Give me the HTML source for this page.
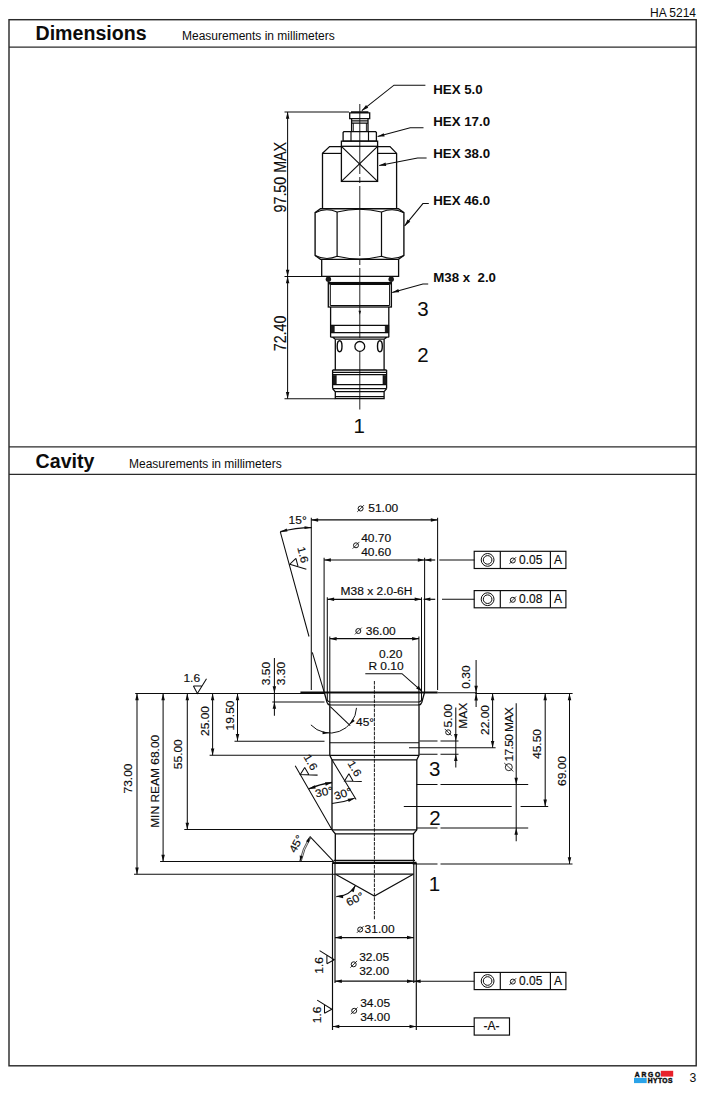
<!DOCTYPE html>
<html><head><meta charset="utf-8"><title>HA 5214</title>
<style>
html,body{margin:0;padding:0;background:#fff;}
svg{display:block;font-family:"Liberation Sans",Arial,sans-serif;}
</style></head><body>
<svg width="709" height="1098" viewBox="0 0 709 1098">
<rect x="0" y="0" width="709" height="1098" fill="#fff"/>
<rect x="9.0" y="19.7" width="687.2" height="1046.1" stroke="#2a2a2a" stroke-width="1.43" fill="none"/>
<line x1="9.0" y1="47.1" x2="696.2" y2="47.1" stroke="#2a2a2a" stroke-width="1.17" />
<line x1="9.0" y1="446.8" x2="696.2" y2="446.8" stroke="#2a2a2a" stroke-width="1.17" />
<line x1="9.0" y1="474.3" x2="696.2" y2="474.3" stroke="#2a2a2a" stroke-width="1.17" />
<text x="650" y="17" font-size="12" text-anchor="start" font-weight="normal" fill="#0c0c0c" >HA 5214</text>
<text x="35.5" y="40" font-size="19.6" text-anchor="start" font-weight="bold" fill="#0c0c0c" >Dimensions</text>
<text x="182" y="40" font-size="12" text-anchor="start" font-weight="normal" fill="#0c0c0c" >Measurements in millimeters</text>
<text x="35.6" y="467.8" font-size="19.6" text-anchor="start" font-weight="bold" fill="#0c0c0c" >Cavity</text>
<text x="129" y="468" font-size="12" text-anchor="start" font-weight="normal" fill="#0c0c0c" >Measurements in millimeters</text>
<rect x="660.8" y="1070.8" width="12.4" height="5.8" stroke="none" stroke-width="0.0" fill="#e8202a"/>
<rect x="634" y="1077.9" width="12.7" height="5.2" stroke="none" stroke-width="0.0" fill="#2ba3e8"/>
<text x="634.8" y="1076.6" font-size="6.7" text-anchor="start" font-weight="bold" fill="#0c0c0c" textLength="25.4" lengthAdjust="spacing" stroke="#111" stroke-width="0.45">ARGO</text>
<text x="647.8" y="1083.0" font-size="6.7" text-anchor="start" font-weight="bold" fill="#0c0c0c" textLength="24.6" lengthAdjust="spacing" stroke="#111" stroke-width="0.45">HYTOS</text>
<text x="689.4" y="1081.9" font-size="12.2" text-anchor="start" font-weight="normal" fill="#0c0c0c" >3</text>
<line x1="359.8" y1="104" x2="359.8" y2="409.5" stroke="#0c0c0c" stroke-width="0.91" stroke-dasharray="70 3 6 3"/>
<line x1="284.5" y1="112" x2="349" y2="112" stroke="#0c0c0c" stroke-width="1.04" />
<line x1="284.5" y1="276.5" x2="323" y2="276.5" stroke="#0c0c0c" stroke-width="1.04" />
<line x1="284.5" y1="398.7" x2="335.3" y2="398.7" stroke="#0c0c0c" stroke-width="1.04" />
<line x1="287.6" y1="112" x2="287.6" y2="276.5" stroke="#0c0c0c" stroke-width="1.04" />
<polygon points="287.60,112.00 289.35,118.80 285.85,118.80" fill="#0c0c0c"/>
<polygon points="287.60,276.50 285.85,269.70 289.35,269.70" fill="#0c0c0c"/>
<line x1="287.6" y1="276.5" x2="287.6" y2="398.7" stroke="#0c0c0c" stroke-width="1.04" />
<polygon points="287.60,276.50 289.35,283.30 285.85,283.30" fill="#0c0c0c"/>
<polygon points="287.60,398.70 285.85,391.90 289.35,391.90" fill="#0c0c0c"/>
<text transform="translate(285.6 177.2) rotate(-90) scale(0.915 1)" font-size="15.6" text-anchor="middle" fill="#0c0c0c" stroke="#0c0c0c" stroke-width="0.15">97.50 MAX</text>
<text transform="translate(285.6 333.4) rotate(-90) scale(0.915 1)" font-size="15.6" text-anchor="middle" fill="#0c0c0c" stroke="#0c0c0c" stroke-width="0.15">72.40</text>
<path d="M351,112 L368.4,112 M349.7,112.8 L369.7,112.8 L369.7,118.6 L349.7,118.6 Z" stroke="#0c0c0c" stroke-width="1.3" fill="none" />
<path d="M351.6,118.6 L351.6,131.6 M368,118.6 L368,131.6 M351.6,120.9 L368,120.9 M351.6,123.1 L368,123.1" stroke="#0c0c0c" stroke-width="1.3" fill="none" />
<path d="M353.3,123.1 L353.3,131.6 M366.4,123.1 L366.4,131.6" stroke="#0c0c0c" stroke-width="0.91" fill="none" />
<path d="M343.9,131.6 L375.6,131.6 L376.4,132.6 L376.4,141.2 L343.1,141.2 L343.1,132.6 Z" stroke="#0c0c0c" stroke-width="1.3" fill="none" />
<line x1="351" y1="131.6" x2="351" y2="141.2" stroke="#0c0c0c" stroke-width="1.17" />
<line x1="368.5" y1="131.6" x2="368.5" y2="141.2" stroke="#0c0c0c" stroke-width="1.17" />
<path d="M341.4,146.3 L341.4,141.2 L377.6,141.2 L377.6,146.3" stroke="#0c0c0c" stroke-width="1.3" fill="none" />
<rect x="341.4" y="146.3" width="36.2" height="35.1" stroke="#0c0c0c" stroke-width="1.3" fill="none"/>
<line x1="341.4" y1="146.3" x2="377.6" y2="181.4" stroke="#0c0c0c" stroke-width="1.17" />
<line x1="377.6" y1="146.3" x2="341.4" y2="181.4" stroke="#0c0c0c" stroke-width="1.17" />
<path d="M322.5,208.8 L322.5,153.4 L329.6,146.6 L341.4,146.6 M377.6,146.6 L390,146.6 L396.6,153.4 L396.6,208.8" stroke="#0c0c0c" stroke-width="1.3" fill="none" />
<line x1="322.5" y1="153.4" x2="341.4" y2="153.4" stroke="#0c0c0c" stroke-width="1.17" />
<line x1="377.6" y1="153.4" x2="396.6" y2="153.4" stroke="#0c0c0c" stroke-width="1.17" />
<path d="M320.5,208.8 L398.4,208.8 L403.9,212.7 L403.9,255.5 L398.4,259.4 L320.5,259.4 L315.1,255.5 L315.1,212.7 Z" stroke="#0c0c0c" stroke-width="1.37" fill="none" />
<line x1="337.1" y1="212" x2="337.1" y2="256.3" stroke="#0c0c0c" stroke-width="1.23" />
<line x1="381.5" y1="212" x2="381.5" y2="256.3" stroke="#0c0c0c" stroke-width="1.23" />
<path d="M315.1,212.7 Q326,207.2 337.1,212 Q359.5,206.4 381.5,212 Q393,207.2 403.9,212.7" stroke="#0c0c0c" stroke-width="1.1" fill="none" />
<path d="M315.1,255.5 Q326,261 337.1,256.3 Q359.5,261.8 381.5,256.3 Q393,261 403.9,255.5" stroke="#0c0c0c" stroke-width="1.1" fill="none" />
<path d="M321.7,259.4 L321.7,276.4 L398.6,276.4 L398.6,259.4" stroke="#0c0c0c" stroke-width="1.3" fill="none" />
<circle cx="328.4" cy="279.3" r="2.7" fill="#1a1a1a"/><circle cx="391.2" cy="279.3" r="2.7" fill="#1a1a1a"/>
<rect x="328.3" y="282.6" width="63.1" height="24.4" stroke="#0c0c0c" stroke-width="1.3" fill="none"/>
<path d="M330.3,284.5 L389.6,284.5 M330.3,284.5 L330.3,305.4 M389.6,284.5 L389.6,305.4 M330.3,305.4 L389.6,305.4" stroke="#0c0c0c" stroke-width="1.04" fill="none" />
<line x1="328.3" y1="283.5" x2="391.4" y2="283.5" stroke="#0c0c0c" stroke-width="2.21" />
<path d="M330.6,307 L330.6,337.2 M388.8,307 L388.8,337.2" stroke="#0c0c0c" stroke-width="1.3" fill="none" />
<line x1="330.6" y1="325.3" x2="388.8" y2="325.3" stroke="#0c0c0c" stroke-width="1.3" />
<line x1="330.6" y1="332.7" x2="388.8" y2="332.7" stroke="#0c0c0c" stroke-width="1.3" />
<rect x="330.6" y="325.3" width="3.6" height="7.4" stroke="#0c0c0c" stroke-width="0.65" fill="#1a1a1a"/>
<rect x="385.2" y="325.3" width="3.6" height="7.4" stroke="#0c0c0c" stroke-width="0.65" fill="#1a1a1a"/>
<path d="M330.6,337.2 L388.8,337.2 M332.6,337.2 L335.3,339.2 L384.1,339.2 L386.8,337.2" stroke="#0c0c0c" stroke-width="1.3" fill="none" />
<polygon points="359.80,314.80 358.50,310.80 361.10,310.80" fill="#0c0c0c"/>
<path d="M335.3,339.2 L335.3,370 M384.1,339.2 L384.1,370" stroke="#0c0c0c" stroke-width="1.3" fill="none" />
<circle cx="359.8" cy="346.4" r="4.9" fill="#fff" stroke="#0c0c0c" stroke-width="1.3"/>
<ellipse cx="339.6" cy="346.2" rx="2.4" ry="5.5" fill="none" stroke="#0c0c0c" stroke-width="1.4"/>
<ellipse cx="379.9" cy="346.2" rx="2.4" ry="5.5" fill="none" stroke="#0c0c0c" stroke-width="1.4"/>
<path d="M332.6,370 L386.6,370 M332.6,370 L332.6,388.6 M386.6,370 L386.6,388.6 M332.6,372.3 L386.6,372.3 M332.6,374.7 L386.6,374.7 M332.6,384.7 L386.6,384.7 M332.6,388.6 L386.6,388.6" stroke="#0c0c0c" stroke-width="1.3" fill="none" />
<rect x="332.8" y="375.6" width="3.4" height="8.6" stroke="#0c0c0c" stroke-width="0.65" fill="#1a1a1a"/>
<rect x="383" y="375.6" width="3.4" height="8.6" stroke="#0c0c0c" stroke-width="0.65" fill="#1a1a1a"/>
<path d="M332.6,388.6 L335.3,391.7 L335.3,398.7 L384.1,398.7 L384.1,391.7 L386.6,388.6 M335.3,391.7 L384.1,391.7 M335.3,396.7 L384.1,396.7" stroke="#0c0c0c" stroke-width="1.3" fill="none" />
<text x="433.2" y="93.7" font-size="13.3" text-anchor="start" font-weight="bold" fill="#0c0c0c" xml:space="preserve">HEX 5.0</text>
<text x="433.2" y="126" font-size="13.3" text-anchor="start" font-weight="bold" fill="#0c0c0c" xml:space="preserve">HEX 17.0</text>
<text x="433.2" y="158" font-size="13.3" text-anchor="start" font-weight="bold" fill="#0c0c0c" xml:space="preserve">HEX 38.0</text>
<text x="433.2" y="205" font-size="13.3" text-anchor="start" font-weight="bold" fill="#0c0c0c" xml:space="preserve">HEX 46.0</text>
<text x="433.2" y="282.3" font-size="13.3" text-anchor="start" font-weight="bold" fill="#0c0c0c" xml:space="preserve">M38 x  2.0</text>
<path d="M425.4,85.2 L394,85.2 L361.8,110.7" stroke="#0c0c0c" stroke-width="1.04" fill="none" />
<polygon points="361.80,110.70 366.04,105.11 368.22,107.85" fill="#0c0c0c"/>
<path d="M423.5,127.8 L410.2,127.8 L377.6,136.6" stroke="#0c0c0c" stroke-width="1.04" fill="none" />
<polygon points="377.60,136.60 383.71,133.14 384.62,136.52" fill="#0c0c0c"/>
<path d="M426.6,158 L417.6,158 L379.2,165.5" stroke="#0c0c0c" stroke-width="1.04" fill="none" />
<polygon points="379.20,165.50 385.54,162.48 386.21,165.91" fill="#0c0c0c"/>
<path d="M428.8,203.6 L422.9,203.6 L404.6,225.9" stroke="#0c0c0c" stroke-width="1.04" fill="none" />
<polygon points="404.60,225.90 407.56,219.53 410.27,221.75" fill="#0c0c0c"/>
<path d="M428.2,283.9 L422.9,283.9 L392.2,292.4" stroke="#0c0c0c" stroke-width="1.04" fill="none" />
<polygon points="392.20,292.40 398.29,288.90 399.22,292.27" fill="#0c0c0c"/>
<text x="423" y="315.8" font-size="20.5" text-anchor="middle" font-weight="normal" fill="#0c0c0c" >3</text>
<text x="423" y="362.4" font-size="20.5" text-anchor="middle" font-weight="normal" fill="#0c0c0c" >2</text>
<text x="359.3" y="433.3" font-size="20.5" text-anchor="middle" font-weight="normal" fill="#0c0c0c" >1</text>
<line x1="135.2" y1="693.5" x2="324.4" y2="693.5" stroke="#0c0c0c" stroke-width="1.1" />
<line x1="300.4" y1="692.5" x2="437.6" y2="692.5" stroke="#0c0c0c" stroke-width="1.76" />
<line x1="437.6" y1="692.8" x2="477" y2="692.8" stroke="#0c0c0c" stroke-width="1.04" />
<line x1="475.2" y1="693.4" x2="572.6" y2="693.4" stroke="#0c0c0c" stroke-width="1.04" />
<line x1="311.3" y1="517.8" x2="311.3" y2="690" stroke="#0c0c0c" stroke-width="1.04" />
<line x1="437.6" y1="517.8" x2="437.6" y2="690" stroke="#0c0c0c" stroke-width="1.04" />
<line x1="324.1" y1="557.8" x2="324.1" y2="692.5" stroke="#0c0c0c" stroke-width="1.04" />
<line x1="424.6" y1="557.8" x2="424.6" y2="692.5" stroke="#0c0c0c" stroke-width="1.04" />
<line x1="327.3" y1="597.3" x2="327.3" y2="700.5" stroke="#0c0c0c" stroke-width="1.04" />
<line x1="421.5" y1="597.3" x2="421.5" y2="700.5" stroke="#0c0c0c" stroke-width="1.04" />
<line x1="329.8" y1="636.6" x2="329.8" y2="705" stroke="#0c0c0c" stroke-width="1.04" />
<line x1="418.9" y1="636.6" x2="418.9" y2="705" stroke="#0c0c0c" stroke-width="1.04" />
<line x1="311.3" y1="519.9" x2="437.6" y2="519.9" stroke="#0c0c0c" stroke-width="1.17" />
<polygon points="311.30,519.90 318.10,518.15 318.10,521.65" fill="#0c0c0c"/>
<polygon points="437.60,519.90 430.80,521.65 430.80,518.15" fill="#0c0c0c"/>
<line x1="324.1" y1="560" x2="424.6" y2="560" stroke="#0c0c0c" stroke-width="1.17" />
<polygon points="324.10,560.00 330.90,558.25 330.90,561.75" fill="#0c0c0c"/>
<polygon points="424.60,560.00 417.80,561.75 417.80,558.25" fill="#0c0c0c"/>
<line x1="327.3" y1="599.3" x2="421.5" y2="599.3" stroke="#0c0c0c" stroke-width="1.17" />
<polygon points="327.30,599.30 334.10,597.55 334.10,601.05" fill="#0c0c0c"/>
<polygon points="421.50,599.30 414.70,601.05 414.70,597.55" fill="#0c0c0c"/>
<line x1="329.8" y1="638.7" x2="418.9" y2="638.7" stroke="#0c0c0c" stroke-width="1.17" />
<polygon points="329.80,638.70 336.60,636.95 336.60,640.45" fill="#0c0c0c"/>
<polygon points="418.90,638.70 412.10,640.45 412.10,636.95" fill="#0c0c0c"/>
<polygon points="424.60,560.00 431.40,558.25 431.40,561.75" fill="#0c0c0c"/>
<line x1="424.6" y1="560" x2="435.2" y2="560" stroke="#0c0c0c" stroke-width="1.17" />
<line x1="439.3" y1="560" x2="474.4" y2="560" stroke="#0c0c0c" stroke-width="1.04" />
<polygon points="423.60,599.30 430.40,597.55 430.40,601.05" fill="#0c0c0c"/>
<line x1="423.6" y1="599.3" x2="435.2" y2="599.3" stroke="#0c0c0c" stroke-width="1.17" />
<line x1="442" y1="599.3" x2="474.4" y2="599.3" stroke="#0c0c0c" stroke-width="1.04" />
<circle cx="360.6" cy="508.5" r="2.5" fill="none" stroke="#0c0c0c" stroke-width="0.95"/>
<line x1="357.20000000000005" y1="511.9" x2="364.0" y2="505.1" stroke="#0c0c0c" stroke-width="0.78" />
<text x="0" y="0" font-size="10.8" text-anchor="start" font-weight="normal" fill="#0c0c0c" stroke="#0c0c0c" stroke-width="0.15" transform="translate(368.3 512) scale(1.11 1)" >51.00</text>
<circle cx="356" cy="545.3" r="2.5" fill="none" stroke="#0c0c0c" stroke-width="0.95"/>
<line x1="352.6" y1="548.6999999999999" x2="359.4" y2="541.9" stroke="#0c0c0c" stroke-width="0.78" />
<text x="0" y="0" font-size="10.8" text-anchor="start" font-weight="normal" fill="#0c0c0c" stroke="#0c0c0c" stroke-width="0.15" transform="translate(361.2 542) scale(1.11 1)" >40.70</text>
<text x="0" y="0" font-size="10.8" text-anchor="start" font-weight="normal" fill="#0c0c0c" stroke="#0c0c0c" stroke-width="0.15" transform="translate(361.2 556) scale(1.11 1)" >40.60</text>
<text x="0" y="0" font-size="10.8" text-anchor="middle" font-weight="normal" fill="#0c0c0c" stroke="#0c0c0c" stroke-width="0.15" transform="translate(376.5 594.5) scale(1.11 1)" >M38 x 2.0-6H</text>
<circle cx="358.3" cy="631" r="2.5" fill="none" stroke="#0c0c0c" stroke-width="0.95"/>
<line x1="354.90000000000003" y1="634.4" x2="361.7" y2="627.6" stroke="#0c0c0c" stroke-width="0.78" />
<text x="0" y="0" font-size="10.8" text-anchor="start" font-weight="normal" fill="#0c0c0c" stroke="#0c0c0c" stroke-width="0.15" transform="translate(365.8 634.8) scale(1.11 1)" >36.00</text>
<text x="0" y="0" font-size="10.8" text-anchor="start" font-weight="normal" fill="#0c0c0c" stroke="#0c0c0c" stroke-width="0.15" transform="translate(379 658) scale(1.11 1)" >0.20</text>
<text x="0" y="0" font-size="10.8" text-anchor="start" font-weight="normal" fill="#0c0c0c" stroke="#0c0c0c" stroke-width="0.15" transform="translate(368.4 670) scale(1.11 1)" >R 0.10</text>
<path d="M365.3,673.7 L402,673.7 L421.4,690.8" stroke="#0c0c0c" stroke-width="1.04" fill="none" />
<polygon points="422.40,691.60 416.12,688.46 418.42,685.82" fill="#0c0c0c"/>
<rect x="474.2" y="551.3" width="91.7" height="17.2" stroke="#0c0c0c" stroke-width="1.17" fill="none"/>
<line x1="500.3" y1="551.3" x2="500.3" y2="568.5" stroke="#0c0c0c" stroke-width="1.17" />
<line x1="550.4" y1="551.3" x2="550.4" y2="568.5" stroke="#0c0c0c" stroke-width="1.17" />
<circle cx="487.6" cy="559.9" r="6.4" fill="none" stroke="#0c0c0c" stroke-width="1.0"/><circle cx="487.6" cy="559.9" r="4.3" fill="none" stroke="#0c0c0c" stroke-width="1.0"/>
<circle cx="512.8" cy="560.5" r="2.5" fill="none" stroke="#0c0c0c" stroke-width="0.95"/>
<line x1="509.4" y1="563.9" x2="516.1999999999999" y2="557.1" stroke="#0c0c0c" stroke-width="0.78" />
<text x="519.0" y="564.0" font-size="12" text-anchor="start" font-weight="normal" fill="#0c0c0c" stroke="#0c0c0c" stroke-width="0.15">0.05</text>
<text x="557.9" y="564.0" font-size="12" text-anchor="middle" font-weight="normal" fill="#0c0c0c" stroke="#0c0c0c" stroke-width="0.15">A</text>
<rect x="474.2" y="590.6" width="91.7" height="17.2" stroke="#0c0c0c" stroke-width="1.17" fill="none"/>
<line x1="500.3" y1="590.6" x2="500.3" y2="607.8000000000001" stroke="#0c0c0c" stroke-width="1.17" />
<line x1="550.4" y1="590.6" x2="550.4" y2="607.8000000000001" stroke="#0c0c0c" stroke-width="1.17" />
<circle cx="487.6" cy="599.2" r="6.4" fill="none" stroke="#0c0c0c" stroke-width="1.0"/><circle cx="487.6" cy="599.2" r="4.3" fill="none" stroke="#0c0c0c" stroke-width="1.0"/>
<circle cx="512.8" cy="599.8000000000001" r="2.5" fill="none" stroke="#0c0c0c" stroke-width="0.95"/>
<line x1="509.4" y1="603.2" x2="516.1999999999999" y2="596.4000000000001" stroke="#0c0c0c" stroke-width="0.78" />
<text x="519.0" y="603.3000000000001" font-size="12" text-anchor="start" font-weight="normal" fill="#0c0c0c" stroke="#0c0c0c" stroke-width="0.15">0.08</text>
<text x="557.9" y="603.3000000000001" font-size="12" text-anchor="middle" font-weight="normal" fill="#0c0c0c" stroke="#0c0c0c" stroke-width="0.15">A</text>
<rect x="474.2" y="972.4" width="91.7" height="17.2" stroke="#0c0c0c" stroke-width="1.17" fill="none"/>
<line x1="500.3" y1="972.4" x2="500.3" y2="989.6" stroke="#0c0c0c" stroke-width="1.17" />
<line x1="550.4" y1="972.4" x2="550.4" y2="989.6" stroke="#0c0c0c" stroke-width="1.17" />
<circle cx="487.6" cy="981.0" r="6.4" fill="none" stroke="#0c0c0c" stroke-width="1.0"/><circle cx="487.6" cy="981.0" r="4.3" fill="none" stroke="#0c0c0c" stroke-width="1.0"/>
<circle cx="512.8" cy="981.6" r="2.5" fill="none" stroke="#0c0c0c" stroke-width="0.95"/>
<line x1="509.4" y1="985.0" x2="516.1999999999999" y2="978.2" stroke="#0c0c0c" stroke-width="0.78" />
<text x="519.0" y="985.1" font-size="12" text-anchor="start" font-weight="normal" fill="#0c0c0c" stroke="#0c0c0c" stroke-width="0.15">0.05</text>
<text x="557.9" y="985.1" font-size="12" text-anchor="middle" font-weight="normal" fill="#0c0c0c" stroke="#0c0c0c" stroke-width="0.15">A</text>
<rect x="474.2" y="1017.9" width="35.3" height="17.2" stroke="#0c0c0c" stroke-width="1.17" fill="none"/>
<text x="491.5" y="1030.3" font-size="12" text-anchor="middle" font-weight="normal" fill="#0c0c0c" stroke="#0c0c0c" stroke-width="0.15">-A-</text>
<line x1="418.5" y1="981.2" x2="474.2" y2="981.2" stroke="#0c0c0c" stroke-width="1.04" />
<line x1="416.5" y1="1026.5" x2="474.2" y2="1026.5" stroke="#0c0c0c" stroke-width="1.04" />
<path d="M280.3,531.8 L309,636.5 M312.3,652.4 L324.3,692.7" stroke="#0c0c0c" stroke-width="1.04" fill="none" />
<path d="M280.3,531.8 A120.6,120.6 0 0 1 311.5,527.6" stroke="#0c0c0c" stroke-width="1.43" fill="none" />
<polygon points="280.30,531.80 286.69,528.59 287.44,531.39" fill="#0c0c0c"/>
<polygon points="311.50,527.60 304.50,529.05 304.50,526.15" fill="#0c0c0c"/>
<text x="0" y="0" font-size="10.8" text-anchor="start" font-weight="normal" fill="#0c0c0c" stroke="#0c0c0c" stroke-width="0.15" transform="translate(288.6 524.4) scale(1.11 1)" >15°</text>
<g transform="translate(289.8 564.2) rotate(75)">
<path d="M-4.0,-7.4 L0,0 L9.1,-14.7 M-4.0,-7.4 L4.2,-7.4" stroke="#0c0c0c" stroke-width="1.04" fill="none" />
<text x="0" y="0" font-size="10.8" text-anchor="start" font-weight="normal" fill="#0c0c0c" stroke="#0c0c0c" stroke-width="0.15" transform="translate(-14.0 -11.4) scale(1.11 1)" >1.6</text>
</g>
<g transform="translate(197.4 693.5) rotate(0)">
<path d="M-4.0,-7.4 L0,0 L9.1,-14.7 M-4.0,-7.4 L4.2,-7.4" stroke="#0c0c0c" stroke-width="1.04" fill="none" />
<text x="0" y="0" font-size="10.8" text-anchor="start" font-weight="normal" fill="#0c0c0c" stroke="#0c0c0c" stroke-width="0.15" transform="translate(-14.0 -11.4) scale(1.11 1)" >1.6</text>
</g>
<line x1="137" y1="693.5" x2="137" y2="874.2" stroke="#0c0c0c" stroke-width="1.04" />
<polygon points="137.00,693.50 138.75,700.30 135.25,700.30" fill="#0c0c0c"/>
<polygon points="137.00,874.20 135.25,867.40 138.75,867.40" fill="#0c0c0c"/>
<line x1="163.1" y1="693.5" x2="163.1" y2="861.6" stroke="#0c0c0c" stroke-width="1.04" />
<polygon points="163.10,693.50 164.85,700.30 161.35,700.30" fill="#0c0c0c"/>
<polygon points="163.10,861.60 161.35,854.80 164.85,854.80" fill="#0c0c0c"/>
<line x1="187.3" y1="693.5" x2="187.3" y2="829.6" stroke="#0c0c0c" stroke-width="1.04" />
<polygon points="187.30,693.50 189.05,700.30 185.55,700.30" fill="#0c0c0c"/>
<polygon points="187.30,829.60 185.55,822.80 189.05,822.80" fill="#0c0c0c"/>
<line x1="212.6" y1="693.5" x2="212.6" y2="755.2" stroke="#0c0c0c" stroke-width="1.04" />
<polygon points="212.60,693.50 214.35,700.30 210.85,700.30" fill="#0c0c0c"/>
<polygon points="212.60,755.20 210.85,748.40 214.35,748.40" fill="#0c0c0c"/>
<line x1="237.5" y1="693.5" x2="237.5" y2="740.9" stroke="#0c0c0c" stroke-width="1.04" />
<polygon points="237.50,693.50 239.25,700.30 235.75,700.30" fill="#0c0c0c"/>
<polygon points="237.50,740.90 235.75,734.10 239.25,734.10" fill="#0c0c0c"/>
<text x="0" y="0" font-size="10.8" text-anchor="middle" font-weight="normal" fill="#0c0c0c" stroke="#0c0c0c" stroke-width="0.15" transform="translate(132 778.5) rotate(-90) scale(1.11 1)" >73.00</text>
<text x="0" y="0" font-size="10.8" text-anchor="middle" font-weight="normal" fill="#0c0c0c" stroke="#0c0c0c" stroke-width="0.15" transform="translate(159.4 781.3) rotate(-90) scale(1.11 1)" >MIN REAM 68.00</text>
<text x="0" y="0" font-size="10.8" text-anchor="middle" font-weight="normal" fill="#0c0c0c" stroke="#0c0c0c" stroke-width="0.15" transform="translate(182.3 754.2) rotate(-90) scale(1.11 1)" >55.00</text>
<text x="0" y="0" font-size="10.8" text-anchor="middle" font-weight="normal" fill="#0c0c0c" stroke="#0c0c0c" stroke-width="0.15" transform="translate(208.8 721) rotate(-90) scale(1.11 1)" >25.00</text>
<text x="0" y="0" font-size="10.8" text-anchor="middle" font-weight="normal" fill="#0c0c0c" stroke="#0c0c0c" stroke-width="0.15" transform="translate(233.5 715.5) rotate(-90) scale(1.11 1)" >19.50</text>
<line x1="274.4" y1="658" x2="274.4" y2="715.7" stroke="#0c0c0c" stroke-width="1.04" />
<polygon points="274.40,693.10 272.65,686.30 276.15,686.30" fill="#0c0c0c"/>
<polygon points="274.40,702.00 276.15,708.80 272.65,708.80" fill="#0c0c0c"/>
<text x="0" y="0" font-size="10.8" text-anchor="middle" font-weight="normal" fill="#0c0c0c" stroke="#0c0c0c" stroke-width="0.15" transform="translate(270.3 673.5) rotate(-90) scale(1.11 1)" >3.50</text>
<text x="0" y="0" font-size="10.8" text-anchor="middle" font-weight="normal" fill="#0c0c0c" stroke="#0c0c0c" stroke-width="0.15" transform="translate(285.2 673.5) rotate(-90) scale(1.11 1)" >3.30</text>
<line x1="272.3" y1="702" x2="324.5" y2="702" stroke="#0c0c0c" stroke-width="1.04" />
<line x1="234.5" y1="741.2" x2="324.5" y2="741.2" stroke="#0c0c0c" stroke-width="1.04" />
<line x1="209.6" y1="755.2" x2="329.8" y2="755.2" stroke="#0c0c0c" stroke-width="1.04" />
<line x1="184.3" y1="829.6" x2="332" y2="829.6" stroke="#0c0c0c" stroke-width="1.04" />
<line x1="160.1" y1="861.6" x2="333.8" y2="861.6" stroke="#0c0c0c" stroke-width="1.04" />
<line x1="134" y1="874.2" x2="335.0" y2="874.2" stroke="#0c0c0c" stroke-width="1.04" />
<line x1="476.1" y1="660" x2="476.1" y2="707" stroke="#0c0c0c" stroke-width="1.04" />
<polygon points="476.10,692.60 474.35,685.80 477.85,685.80" fill="#0c0c0c"/>
<polygon points="476.10,693.60 477.85,700.40 474.35,700.40" fill="#0c0c0c"/>
<text x="0" y="0" font-size="10.8" text-anchor="middle" font-weight="normal" fill="#0c0c0c" stroke="#0c0c0c" stroke-width="0.15" transform="translate(469.8 677) rotate(-90) scale(1.11 1)" >0.30</text>
<line x1="492.6" y1="693.4" x2="492.6" y2="747.7" stroke="#0c0c0c" stroke-width="1.04" />
<polygon points="492.60,693.40 494.35,700.20 490.85,700.20" fill="#0c0c0c"/>
<polygon points="492.60,747.70 490.85,740.90 494.35,740.90" fill="#0c0c0c"/>
<text x="0" y="0" font-size="10.8" text-anchor="middle" font-weight="normal" fill="#0c0c0c" stroke="#0c0c0c" stroke-width="0.15" transform="translate(489.3 720) rotate(-90) scale(1.11 1)" >22.00</text>
<line x1="409" y1="747.7" x2="495.6" y2="747.7" stroke="#0c0c0c" stroke-width="1.04" />
<line x1="455.8" y1="707.6" x2="455.8" y2="767.6" stroke="#0c0c0c" stroke-width="1.04" />
<polygon points="455.80,740.90 454.05,734.10 457.55,734.10" fill="#0c0c0c"/>
<polygon points="455.80,754.20 457.55,761.00 454.05,761.00" fill="#0c0c0c"/>
<g transform="translate(452 735.5) rotate(-90)">
<circle cx="3.2" cy="-3.8" r="2.5" fill="none" stroke="#0c0c0c" stroke-width="0.95"/>
<line x1="-0.19999999999999973" y1="-0.3999999999999999" x2="6.6" y2="-7.199999999999999" stroke="#0c0c0c" stroke-width="0.78" />
<text x="0" y="0" font-size="10.8" text-anchor="start" font-weight="normal" fill="#0c0c0c" stroke="#0c0c0c" stroke-width="0.15" transform="translate(8 0) scale(1.11 1)" >5.00</text>
</g>
<text x="0" y="0" font-size="10.8" text-anchor="middle" font-weight="normal" fill="#0c0c0c" stroke="#0c0c0c" stroke-width="0.15" transform="translate(466.5 715.7) rotate(-90) scale(1.11 1)" >MAX</text>
<line x1="419.5" y1="740.9" x2="458.8" y2="740.9" stroke="#0c0c0c" stroke-width="1.04" stroke-dasharray="18 3"/>
<line x1="419.5" y1="754.2" x2="458.8" y2="754.2" stroke="#0c0c0c" stroke-width="1.04" stroke-dasharray="18 3"/>
<line x1="516.2" y1="703.3" x2="516.2" y2="841.2" stroke="#0c0c0c" stroke-width="1.04" />
<polygon points="516.20,784.60 514.45,777.80 517.95,777.80" fill="#0c0c0c"/>
<polygon points="516.20,828.00 517.95,834.80 514.45,834.80" fill="#0c0c0c"/>
<g transform="translate(513 771.8) rotate(-90)">
<circle cx="4.6" cy="-4.2" r="3.5" fill="none" stroke="#111" stroke-width="0.9"/>
<line x1="0.4" y1="0.4" x2="8.8" y2="-8.8" stroke="#0c0c0c" stroke-width="0.78" />
<text x="0" y="0" font-size="10.8" text-anchor="start" font-weight="normal" fill="#0c0c0c" stroke="#0c0c0c" stroke-width="0.15" transform="translate(10.2 0) scale(1.11 1)" textLength="49" lengthAdjust="spacing">17.50 MAX</text>
</g>
<line x1="545.2" y1="693.4" x2="545.2" y2="806.4" stroke="#0c0c0c" stroke-width="1.04" />
<polygon points="545.20,693.40 546.95,700.20 543.45,700.20" fill="#0c0c0c"/>
<polygon points="545.20,806.40 543.45,799.60 546.95,799.60" fill="#0c0c0c"/>
<text x="0" y="0" font-size="10.8" text-anchor="middle" font-weight="normal" fill="#0c0c0c" stroke="#0c0c0c" stroke-width="0.15" transform="translate(540.9 744) rotate(-90) scale(1.11 1)" >45.50</text>
<line x1="569.5" y1="693.4" x2="569.5" y2="864" stroke="#0c0c0c" stroke-width="1.04" />
<polygon points="569.50,693.40 571.25,700.20 567.75,700.20" fill="#0c0c0c"/>
<polygon points="569.50,864.00 567.75,857.20 571.25,857.20" fill="#0c0c0c"/>
<text x="0" y="0" font-size="10.8" text-anchor="middle" font-weight="normal" fill="#0c0c0c" stroke="#0c0c0c" stroke-width="0.15" transform="translate(565.5 771) rotate(-90) scale(1.11 1)" >69.00</text>
<path d="M416.5,784.6 L437.5,784.6 M440.5,784.6 L528.2,784.6" stroke="#0c0c0c" stroke-width="1.04" fill="none" />
<path d="M403.8,806.4 L511.7,806.4 M520.6,806.4 L548.2,806.4" stroke="#0c0c0c" stroke-width="1.04" fill="none" />
<path d="M416.5,828 L437.5,828 M440.5,828 L528.2,828" stroke="#0c0c0c" stroke-width="1.04" fill="none" />
<path d="M412.7,864 L437.5,864 M440.5,864 L572.5,864" stroke="#0c0c0c" stroke-width="1.04" fill="none" />
<text x="434.7" y="776.1" font-size="20.5" text-anchor="middle" font-weight="normal" fill="#0c0c0c" >3</text>
<text x="435" y="824.7" font-size="20.5" text-anchor="middle" font-weight="normal" fill="#0c0c0c" >2</text>
<text x="434.4" y="890.7" font-size="20.5" text-anchor="middle" font-weight="normal" fill="#0c0c0c" >1</text>
<path d="M324.3,692.5 L327,702.2 Q327.7,704.4 329.8,705 L329.8,755.3 L332,759.8 L332,829.8 L335.3,833.8 L335.3,861.7" stroke="#0c0c0c" stroke-width="1.3" fill="none" />
<path d="M327.3,700 Q327.8,701.6 329.8,701.9" stroke="#0c0c0c" stroke-width="1.04" fill="none" />
<line x1="332.5" y1="863" x2="332.5" y2="1030" stroke="#0c0c0c" stroke-width="1.17" />
<line x1="335.0" y1="863" x2="335.0" y2="983" stroke="#0c0c0c" stroke-width="1.17" />
<path d="M424.49999999999994,692.5 L421.79999999999995,702.2 Q421.09999999999997,704.4 418.99999999999994,705 L418.99999999999994,755.3 L416.79999999999995,759.8 L416.79999999999995,829.8 L413.49999999999994,833.8 L413.49999999999994,861.7" stroke="#0c0c0c" stroke-width="1.3" fill="none" />
<path d="M421.49999999999994,700 Q420.99999999999994,701.6 418.99999999999994,701.9" stroke="#0c0c0c" stroke-width="1.04" fill="none" />
<line x1="416.29999999999995" y1="863" x2="416.29999999999995" y2="1030" stroke="#0c0c0c" stroke-width="1.17" />
<line x1="413.79999999999995" y1="863" x2="413.79999999999995" y2="983" stroke="#0c0c0c" stroke-width="1.17" />
<line x1="329.8" y1="701.9" x2="418.99999999999994" y2="701.9" stroke="#0c0c0c" stroke-width="1.04" />
<line x1="329.8" y1="705" x2="418.99999999999994" y2="705" stroke="#0c0c0c" stroke-width="1.17" />
<line x1="329.8" y1="742.8" x2="418.99999999999994" y2="742.8" stroke="#0c0c0c" stroke-width="1.04" />
<line x1="329.8" y1="755.3" x2="418.99999999999994" y2="755.3" stroke="#0c0c0c" stroke-width="1.17" />
<line x1="332" y1="759.8" x2="416.79999999999995" y2="759.8" stroke="#0c0c0c" stroke-width="1.17" />
<line x1="332" y1="829.8" x2="416.79999999999995" y2="829.8" stroke="#0c0c0c" stroke-width="1.17" />
<line x1="335.3" y1="833.8" x2="413.49999999999994" y2="833.8" stroke="#0c0c0c" stroke-width="1.17" />
<line x1="333.8" y1="860.4" x2="414.99999999999994" y2="860.4" stroke="#0c0c0c" stroke-width="1.17" />
<line x1="332.2" y1="862.8" x2="416.59999999999997" y2="862.8" stroke="#0c0c0c" stroke-width="2.34" />
<line x1="335.0" y1="874.2" x2="413.79999999999995" y2="874.2" stroke="#0c0c0c" stroke-width="1.17" />
<path d="M336,874.4 L374.4,896 L412.79999999999995,874.4" stroke="#0c0c0c" stroke-width="1.17" fill="none" />
<line x1="374.4" y1="681" x2="374.4" y2="920" stroke="#0c0c0c" stroke-width="0.94" stroke-dasharray="3.6 1"/>
<path d="M330.3,706.6 L350.2,725.6" stroke="#0c0c0c" stroke-width="1.04" fill="none" />
<path d="M356.5,707.9 A26.5,26.5 0 0 1 310.9,724.9" stroke="#0c0c0c" stroke-width="0.98" fill="none" />
<polygon points="329.60,733.00 322.55,734.25 322.66,731.26" fill="#0c0c0c"/>
<polygon points="348.90,725.10 352.58,718.96 354.77,721.00" fill="#0c0c0c"/>
<text x="0" y="0" font-size="10.8" text-anchor="start" font-weight="normal" fill="#0c0c0c" stroke="#0c0c0c" stroke-width="0.15" transform="translate(356 726.3) scale(1.11 1)" >45°</text>
<path d="M295.2,765.7 L332,829.8 M332,759.8 L356.1,799.5" stroke="#0c0c0c" stroke-width="1.04" fill="none" />
<path d="M308.7,788.9 A85,85 0 0 1 332,782.5" stroke="#0c0c0c" stroke-width="1.3" fill="none" />
<polygon points="308.70,788.90 314.69,785.24 315.71,788.59" fill="#0c0c0c"/>
<polygon points="332.00,782.50 325.77,785.73 324.98,782.32" fill="#0c0c0c"/>
<path d="M332,803.4 A85,85 0 0 0 354.6,798.2" stroke="#0c0c0c" stroke-width="1.04" fill="none" />
<polygon points="354.60,798.20 348.74,802.07 347.60,798.76" fill="#0c0c0c"/>
<text x="0" y="0" font-size="10.8" text-anchor="start" font-weight="normal" fill="#0c0c0c" stroke="#0c0c0c" stroke-width="0.15" transform="translate(316 797.5) rotate(-12) scale(1.11 1)" >30°</text>
<text x="0" y="0" font-size="10.8" text-anchor="start" font-weight="normal" fill="#0c0c0c" stroke="#0c0c0c" stroke-width="0.15" transform="translate(335.5 800) rotate(-18) scale(1.11 1)" >30°</text>
<g transform="translate(300.3 774.6) rotate(60)">
<path d="M-4.0,-7.4 L0,0 L9.1,-14.7 M-4.0,-7.4 L4.2,-7.4" stroke="#0c0c0c" stroke-width="1.04" fill="none" />
<text x="0" y="0" font-size="10.8" text-anchor="start" font-weight="normal" fill="#0c0c0c" stroke="#0c0c0c" stroke-width="0.15" transform="translate(-14.0 -11.4) scale(1.11 1)" >1.6</text>
</g>
<g transform="translate(344.5 781) rotate(60)">
<path d="M-4.0,-7.4 L0,0 L9.1,-14.7 M-4.0,-7.4 L4.2,-7.4" stroke="#0c0c0c" stroke-width="1.04" fill="none" />
<text x="0" y="0" font-size="10.8" text-anchor="start" font-weight="normal" fill="#0c0c0c" stroke="#0c0c0c" stroke-width="0.15" transform="translate(-14.0 -11.4) scale(1.11 1)" >1.6</text>
</g>
<path d="M309.8,836.4 L333.3,861.2" stroke="#0c0c0c" stroke-width="1.04" fill="none" />
<path d="M309.3,837.4 A75,75 0 0 0 299.6,861.4 M310.6,838 A75,75 0 0 0 301.2,861.4" stroke="#0c0c0c" stroke-width="0.72" fill="none" />
<polygon points="310.10,836.60 308.91,842.69 306.03,841.29" fill="#0c0c0c"/>
<polygon points="300.20,861.80 299.67,855.61 302.82,856.17" fill="#0c0c0c"/>
<text x="0" y="0" font-size="10.8" text-anchor="start" font-weight="normal" fill="#0c0c0c" stroke="#0c0c0c" stroke-width="0.15" transform="translate(295.2 853.6) rotate(-62) scale(1.11 1)" >45°</text>
<path d="M336.3,896.6 A22.2,22.2 0 0 0 355.5,885.5" stroke="#0c0c0c" stroke-width="1.17" fill="none" />
<polygon points="336.30,896.60 343.10,894.85 343.10,898.35" fill="#0c0c0c"/>
<polygon points="355.50,885.50 353.62,892.26 350.58,890.51" fill="#0c0c0c"/>
<text x="0" y="0" font-size="10.8" text-anchor="start" font-weight="normal" fill="#0c0c0c" stroke="#0c0c0c" stroke-width="0.15" transform="translate(348.6 906.5) rotate(-27) scale(1.11 1)" >60°</text>
<circle cx="360.2" cy="929.5" r="2.5" fill="none" stroke="#0c0c0c" stroke-width="0.95"/>
<line x1="356.8" y1="932.9" x2="363.59999999999997" y2="926.1" stroke="#0c0c0c" stroke-width="0.78" />
<text x="0" y="0" font-size="10.8" text-anchor="start" font-weight="normal" fill="#0c0c0c" stroke="#0c0c0c" stroke-width="0.15" transform="translate(364.6 932.5) scale(1.11 1)" >31.00</text>
<line x1="335.0" y1="937.6" x2="413.79999999999995" y2="937.6" stroke="#0c0c0c" stroke-width="1.17" />
<polygon points="335.00,937.60 341.80,935.85 341.80,939.35" fill="#0c0c0c"/>
<polygon points="413.80,937.60 407.00,939.35 407.00,935.85" fill="#0c0c0c"/>
<circle cx="353.7" cy="964.3" r="2.5" fill="none" stroke="#0c0c0c" stroke-width="0.95"/>
<line x1="350.3" y1="967.6999999999999" x2="357.09999999999997" y2="960.9" stroke="#0c0c0c" stroke-width="0.78" />
<text x="0" y="0" font-size="10.8" text-anchor="start" font-weight="normal" fill="#0c0c0c" stroke="#0c0c0c" stroke-width="0.15" transform="translate(359.2 961) scale(1.11 1)" >32.05</text>
<text x="0" y="0" font-size="10.8" text-anchor="start" font-weight="normal" fill="#0c0c0c" stroke="#0c0c0c" stroke-width="0.15" transform="translate(359.2 975) scale(1.11 1)" >32.00</text>
<line x1="335.0" y1="981.2" x2="413.79999999999995" y2="981.2" stroke="#0c0c0c" stroke-width="1.17" />
<polygon points="335.00,981.20 341.80,979.45 341.80,982.95" fill="#0c0c0c"/>
<polygon points="413.80,981.20 407.00,982.95 407.00,979.45" fill="#0c0c0c"/>
<polygon points="413.80,981.20 420.60,979.45 420.60,982.95" fill="#0c0c0c"/>
<line x1="413.79999999999995" y1="981.2" x2="418.5" y2="981.2" stroke="#0c0c0c" stroke-width="1.17" />
<circle cx="354.2" cy="1010.8" r="2.5" fill="none" stroke="#0c0c0c" stroke-width="0.95"/>
<line x1="350.8" y1="1014.1999999999999" x2="357.59999999999997" y2="1007.4" stroke="#0c0c0c" stroke-width="0.78" />
<text x="0" y="0" font-size="10.8" text-anchor="start" font-weight="normal" fill="#0c0c0c" stroke="#0c0c0c" stroke-width="0.15" transform="translate(360.2 1007) scale(1.11 1)" >34.05</text>
<text x="0" y="0" font-size="10.8" text-anchor="start" font-weight="normal" fill="#0c0c0c" stroke="#0c0c0c" stroke-width="0.15" transform="translate(360.2 1021) scale(1.11 1)" >34.00</text>
<line x1="332.5" y1="1026.5" x2="416.29999999999995" y2="1026.5" stroke="#0c0c0c" stroke-width="1.17" />
<polygon points="332.50,1026.50 339.30,1024.75 339.30,1028.25" fill="#0c0c0c"/>
<polygon points="416.30,1026.50 409.50,1028.25 409.50,1024.75" fill="#0c0c0c"/>
<g transform="translate(334.3 959.7) rotate(-90)">
<path d="M-4.0,-7.4 L0,0 L9.1,-14.7 M-4.0,-7.4 L4.2,-7.4" stroke="#0c0c0c" stroke-width="1.04" fill="none" />
<text x="0" y="0" font-size="10.8" text-anchor="start" font-weight="normal" fill="#0c0c0c" stroke="#0c0c0c" stroke-width="0.15" transform="translate(-14.0 -11.4) scale(1.11 1)" >1.6</text>
</g>
<g transform="translate(331.9 1009.2) rotate(-90)">
<path d="M-4.0,-7.4 L0,0 L9.1,-14.7 M-4.0,-7.4 L4.2,-7.4" stroke="#0c0c0c" stroke-width="1.04" fill="none" />
<text x="0" y="0" font-size="10.8" text-anchor="start" font-weight="normal" fill="#0c0c0c" stroke="#0c0c0c" stroke-width="0.15" transform="translate(-14.0 -11.4) scale(1.11 1)" >1.6</text>
</g>
</svg>
</body></html>
